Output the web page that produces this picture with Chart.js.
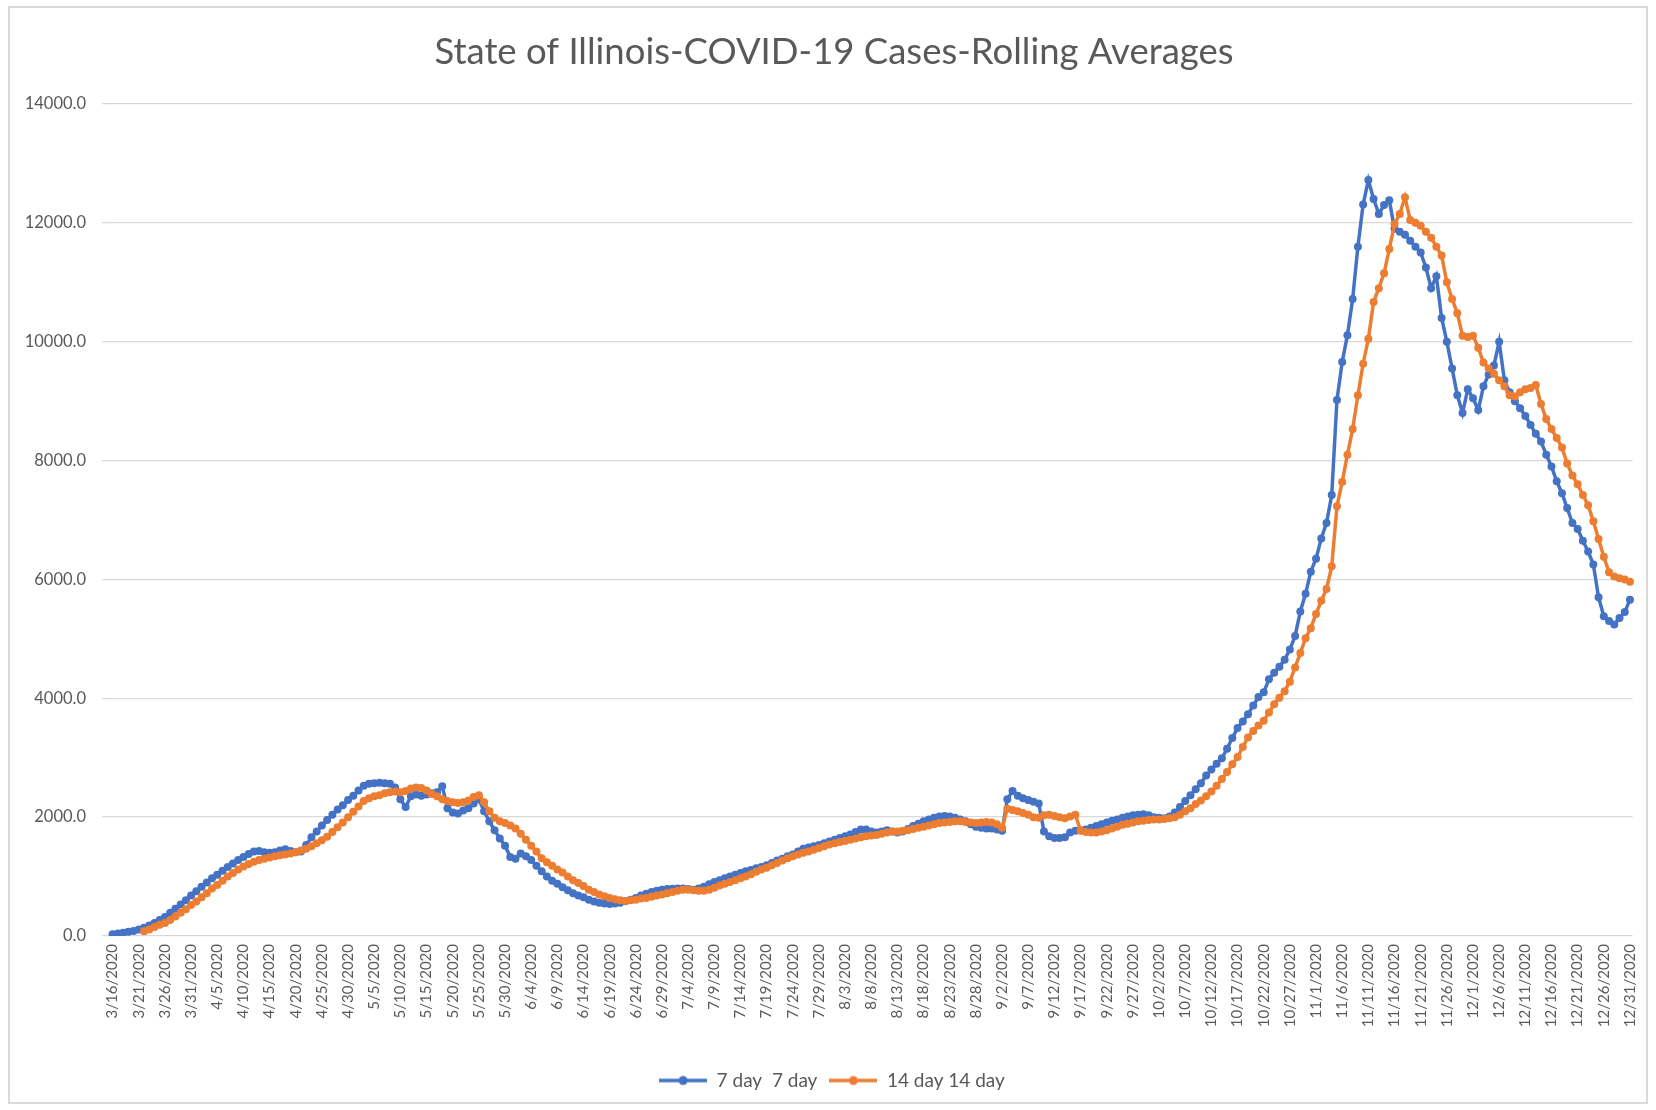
<!DOCTYPE html>
<html>
<head>
<meta charset="utf-8">
<title>State of Illinois-COVID-19 Cases-Rolling Averages</title>
<script src="https://cdn.jsdelivr.net/npm/chart.js@4.4.1/dist/chart.umd.min.js"></script>
<style>
  html, body { margin: 0; padding: 0; background: #fff; }
  #wrap { position: relative; width: 1656px; height: 1110px; }
</style>
</head>
<body>
<div id="wrap"><canvas id="chart" width="1656" height="1110"></canvas></div>
<script>
// Chart data (one value per day)
const chartTitle = "State of Illinois-COVID-19 Cases-Rolling Averages";
const seriesNames = ["7 day  7 day", "14 day 14 day"];
const firstDay = "2020-03-16";
const dayCount = 291;            // 3/16/2020 .. 12/31/2020
const labelEvery = 5;            // a date label every 5th day
const yTicks = [0, 2000, 4000, 6000, 8000, 10000, 12000, 14000];

const sevenDay = [
  30, 40, 55, 70, 85, 110, 140, 175, 220, 270,
  320, 390, 460, 530, 600, 680, 755, 830, 900, 970,
  1030, 1100, 1160, 1220, 1280, 1330, 1380, 1420, 1430, 1410,
  1400, 1410, 1440, 1460, 1430, 1410, 1420, 1530, 1660, 1760,
  1860, 1950, 2040, 2130, 2200, 2290, 2360, 2450, 2530, 2560,
  2570, 2580, 2570, 2560, 2500, 2300, 2170, 2350, 2380, 2360,
  2380, 2400, 2420, 2520, 2150, 2080, 2060, 2110, 2150, 2230,
  2300, 2100, 1930, 1780, 1640, 1520, 1330, 1300, 1390, 1340,
  1280, 1180, 1090, 1000, 930, 880, 820, 770, 720, 680,
  650, 610, 580, 560, 545, 540, 545, 560, 585, 610,
  640, 680, 710, 740, 760, 780, 790, 795, 800, 800,
  790, 780, 800, 830, 870, 910, 940, 970, 1000, 1030,
  1060, 1090, 1110, 1140, 1160, 1190, 1230, 1270, 1300, 1340,
  1370, 1420, 1470, 1490, 1510, 1530, 1560, 1590, 1620, 1650,
  1680, 1710, 1750, 1790, 1790, 1760, 1740, 1760, 1780, 1760,
  1740, 1760, 1800, 1850, 1890, 1930, 1960, 1990, 2010, 2020,
  2010, 1990, 1960, 1930, 1880, 1840, 1820, 1810, 1810, 1790,
  1770, 2300, 2440, 2360, 2320, 2290, 2260, 2230, 1760, 1680,
  1650, 1650, 1660, 1740, 1770, 1780, 1790, 1820, 1850, 1880,
  1910, 1940, 1960, 1990, 2010, 2030, 2040, 2050, 2030, 2000,
  1990, 1980, 2010, 2080, 2170, 2270, 2370, 2470, 2570, 2700,
  2800, 2900, 2990, 3150, 3330, 3500, 3610, 3730, 3880, 4020,
  4100, 4320, 4430, 4530, 4650, 4820, 5050, 5460, 5760, 6130,
  6350, 6690, 6950, 7420, 9020, 9660, 10110, 10720, 11600, 12310,
  12720, 12400, 12150, 12300, 12380, 11900, 11850, 11800, 11700, 11600,
  11500, 11250, 10900, 11100, 10400, 10000, 9550, 9100, 8800, 9200,
  9050, 8850, 9250, 9450, 9600, 10000, 9350, 9150, 9000, 8880,
  8750, 8600, 8450, 8320, 8100, 7900, 7650, 7450, 7200, 6950,
  6850, 6650, 6470, 6250, 5700, 5380, 5300, 5240, 5350, 5450, 5660
];

const fourteenDay = [
  null, null, null, null, null, null, 80, 110, 150, 190,
  220, 270, 330, 390, 450, 520, 580, 650, 720, 800,
  860, 930, 1000, 1060, 1120, 1170, 1210, 1250, 1280, 1300,
  1320, 1340, 1360, 1370, 1390, 1410, 1440, 1470, 1510, 1560,
  1610, 1670, 1750, 1830, 1910, 2000, 2090, 2180, 2270, 2320,
  2350, 2370, 2400, 2420, 2430, 2420, 2440, 2480, 2500, 2490,
  2450, 2390, 2350, 2300, 2270, 2250, 2240, 2250, 2280, 2340,
  2370, 2250, 2100, 1990, 1930, 1900, 1860, 1810, 1720, 1620,
  1520, 1420, 1310, 1240, 1180, 1120, 1070, 1000, 940, 890,
  840, 780, 740, 700, 670, 640, 620, 600, 590, 600,
  610, 630, 640, 660, 680, 700, 720, 740, 760, 780,
  780, 770, 760, 760, 780, 810, 850, 880, 910, 940,
  970, 1000, 1040, 1080, 1120, 1150, 1190, 1230, 1270, 1310,
  1340, 1370, 1400, 1420, 1450, 1480, 1510, 1540, 1560, 1580,
  1600, 1620, 1640, 1660, 1680, 1690, 1700, 1720, 1740, 1760,
  1760, 1770, 1780, 1800, 1820, 1840, 1860, 1880, 1900, 1910,
  1920, 1930, 1930, 1920, 1910, 1900, 1910, 1920, 1910, 1880,
  1820, 2140, 2120, 2100, 2070, 2040, 2000, 1990, 2030, 2040,
  2020, 2000, 1980, 2010, 2040, 1770, 1750, 1740, 1740, 1760,
  1780, 1810, 1840, 1870, 1890, 1910, 1930, 1940, 1950, 1960,
  1960, 1970, 1980, 2000, 2040, 2100, 2150, 2220, 2280, 2350,
  2430, 2530, 2640, 2760, 2890, 3010, 3180, 3340, 3450, 3540,
  3620, 3760, 3900, 4010, 4120, 4280, 4520, 4760, 5010, 5180,
  5420, 5640, 5840, 6220, 7230, 7640, 8100, 8530, 9100, 9630,
  10050, 10670, 10900, 11150, 11560, 11980, 12150, 12430, 12050, 12000,
  11950, 11850, 11750, 11600, 11450, 11000, 10720, 10480, 10100, 10080,
  10100, 9900, 9650, 9550, 9460, 9350, 9250, 9100, 9080, 9150,
  9200, 9220, 9270, 8950, 8700, 8530, 8380, 8220, 7950, 7750,
  7600, 7420, 7250, 6980, 6680, 6380, 6120, 6050, 6020, 6000, 5960
];

// Utility: list of M/D/YYYY strings, one per day
function dayLabels(startIso, n) {
  const out = [];
  const d = new Date(startIso + "T00:00:00Z");
  for (let i = 0; i < n; i++) {
    out.push((d.getUTCMonth() + 1) + "/" + d.getUTCDate() + "/" + d.getUTCFullYear());
    d.setUTCDate(d.getUTCDate() + 1);
  }
  return out;
}
const days = dayLabels(firstDay, dayCount);

const BLUE = "#4472C4";
const ORANGE = "#ED7D31";
const TEXT = "#595959";
const GRID = "#D9D9D9";

// Legend swatch: short line with a dot in the middle (like Excel)
function lineMarker(color) {
  const c = document.createElement("canvas");
  c.width = 48; c.height = 12;
  const g = c.getContext("2d");
  g.strokeStyle = color;
  g.lineWidth = 3.5;
  g.beginPath();
  g.moveTo(0, 6);
  g.lineTo(48, 6);
  g.stroke();
  g.fillStyle = color;
  g.beginPath();
  g.arc(24, 6, 4.5, 0, 2 * Math.PI);
  g.fill();
  return c;
}
const legendMarkers = [lineMarker(BLUE), lineMarker(ORANGE)];

// White page with the thin grey frame around the chart;
// title and legend nudged right a little as in the original
const framePlugin = {
  id: "frame",
  afterLayout(chart) {
    const t = chart.titleBlock;
    if (t) { t.left += 16; t.right += 16; }
    const l = chart.legend;
    if (l) { l.left += 14; l.right += 14; }
  },
  beforeDraw(chart) {
    const ctx = chart.ctx;
    ctx.save();
    ctx.fillStyle = "#fff";
    ctx.fillRect(0, 0, chart.width, chart.height);
    ctx.strokeStyle = "#D9D9D9";
    ctx.lineWidth = 2;
    ctx.strokeRect(9, 7, 1638, 1096);
    ctx.restore();
  }
};

Chart.defaults.font.family = "Lato, 'Liberation Sans', sans-serif";
Chart.defaults.color = TEXT;

new Chart(document.getElementById("chart").getContext("2d"), {
  type: "line",
  data: {
    labels: days,
    datasets: [
      {
        label: seriesNames[0],
        data: sevenDay,
        borderColor: BLUE,
        backgroundColor: BLUE,
        borderWidth: 3.5,
        pointRadius: 4,
        pointBorderWidth: 0,
        fill: false,
        tension: 0,
        order: 1
      },
      {
        label: seriesNames[1],
        data: fourteenDay,
        borderColor: ORANGE,
        backgroundColor: ORANGE,
        borderWidth: 3.5,
        pointRadius: 4,
        pointBorderWidth: 0,
        fill: false,
        tension: 0,
        spanGaps: false,
        order: 0
      }
    ]
  },
  options: {
    responsive: false,
    animation: false,
    layout: { padding: { top: 30, bottom: 10, left: 0, right: 20 } },
    scales: {
      x: {
        offset: true,
        grid: { display: false, drawTicks: false },
        border: { display: false },
        afterFit: s => { s.height = 123; },
        ticks: {
          autoSkip: false,
          minRotation: 90,
          maxRotation: 90,
          padding: 8,
          color: TEXT,
          font: { size: 15 },
          callback: (v, i) => (i % labelEvery === 0 ? days[i] : "")
        }
      },
      y: {
        min: yTicks[0],
        max: yTicks[yTicks.length - 1],
        afterFit: s => { s.width = 110; },
        afterBuildTicks: s => { s.ticks = yTicks.map(v => ({ value: v })); },
        border: { display: false },
        grid: { color: GRID, lineWidth: 1.3, drawTicks: true, tickLength: 8, tickColor: GRID },
        ticks: {
          padding: 16,
          color: TEXT,
          font: { size: 16.5 },
          callback: v => Number(v).toFixed(1)
        }
      }
    },
    plugins: {
      title: {
        display: true,
        text: chartTitle,
        color: TEXT,
        font: { size: 36.5, weight: "normal" },
        padding: { top: 0, bottom: 30.2 }
      },
      legend: {
        position: "bottom",
        labels: {
          usePointStyle: true,
          pointStyleWidth: 48,
          padding: 12,
          color: TEXT,
          font: { size: 19 },
          sort: (a, b) => a.datasetIndex - b.datasetIndex,
          generateLabels: chart => chart.data.datasets.map((ds, i) => ({
            text: ds.label,
            pointStyle: legendMarkers[i],
            fillStyle: ds.borderColor,
            strokeStyle: ds.borderColor,
            lineWidth: 0,
            fontColor: TEXT,
            hidden: false,
            datasetIndex: i
          }))
        }
      },
      tooltip: { enabled: false }
    }
  },
  plugins: [framePlugin]
});
</script>
</body>
</html>
